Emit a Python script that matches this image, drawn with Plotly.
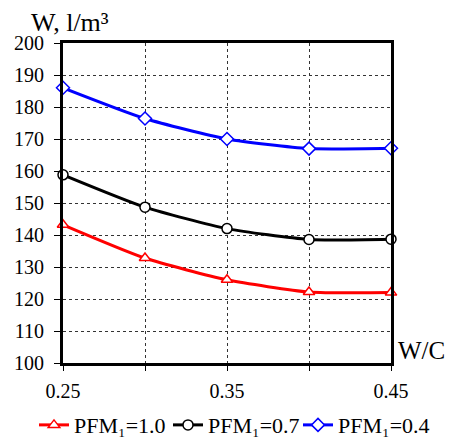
import plotly.graph_objects as go

wc = [0.25, 0.30, 0.35, 0.40, 0.45]
w_pfm10 = [143.2, 132.8, 126.0, 122.2, 122.0]
w_pfm07 = [158.8, 148.7, 142.0, 138.6, 138.7]
w_pfm04 = [186.0, 176.4, 170.0, 167.0, 167.1]

series = [
    ("PFM₁=1.0", w_pfm10, "#ff0000", "triangle-up", "legend"),
    ("PFM₁=0.7", w_pfm07, "#000000", "circle", "legend2"),
    ("PFM₁=0.4", w_pfm04, "#0000ff", "diamond", "legend3"),
]

x_tickvals = [0.25, 0.30, 0.35, 0.40, 0.45]
x_ticktext = ["0.25", "", "0.35", "", "0.45"]
y_tickvals = list(range(100, 201, 10))

FONT = "Liberation Serif"

fig = go.Figure()
for name, vals, color, sym, lg in series:
    fig.add_trace(go.Scatter(
        x=wc, y=vals, name=name, mode="lines+markers", legend=lg,
        line=dict(color=color, width=3, shape="spline", smoothing=0.6),
        marker=dict(symbol=sym, size=10, color="white", line=dict(width=1.5, color=color)),
        cliponaxis=False,
    ))

def leg(xpix):
    return dict(orientation="h", x=(xpix - 63) / 328, xanchor="left",
                y=-0.194, yanchor="middle", bgcolor="rgba(0,0,0,0)",
                font=dict(family=FONT, size=22), itemwidth=30, itemclick=False)

fig.update_layout(
    width=452, height=439,
    margin=dict(l=63, r=61, t=43, b=76, autoexpand=False),
    paper_bgcolor="white", plot_bgcolor="white",
    font=dict(family=FONT, color="#000000", size=20),
    showlegend=True,
    legend=leg(34), legend2=leg(168), legend3=leg(298),
    annotations=[
        dict(text="W, l/m³", x=-0.104, xref="paper", y=1, yref="paper",
             xanchor="left", yanchor="bottom", showarrow=False, yshift=4,
             font=dict(family=FONT, size=26)),
        dict(text="W/C", x=1.0, xref="paper", y=0.04, yref="paper",
             xanchor="left", yanchor="middle", showarrow=False, xshift=5,
             font=dict(family=FONT, size=25)),
    ],
)

fig.update_xaxes(
    range=[0.25, 0.45], tickvals=x_tickvals, ticktext=x_ticktext,
    showgrid=True, gridcolor="#333333", gridwidth=1, griddash="dot",
    showline=True, linecolor="black", linewidth=3, mirror=True,
    ticks="outside", ticklen=5, tickcolor="black", tickwidth=1,
    ticklabelstandoff=3,
    zeroline=False, tickfont=dict(family=FONT, size=20),
)
fig.update_yaxes(
    range=[100, 200], tickvals=y_tickvals,
    showgrid=True, gridcolor="#333333", gridwidth=1, griddash="dot",
    showline=True, linecolor="black", linewidth=3, mirror=True,
    ticks="outside", ticklen=6, tickcolor="black", tickwidth=1,
    ticklabelstandoff=6,
    zeroline=False, tickfont=dict(family=FONT, size=20),
)

fig.write_html("out.html")
